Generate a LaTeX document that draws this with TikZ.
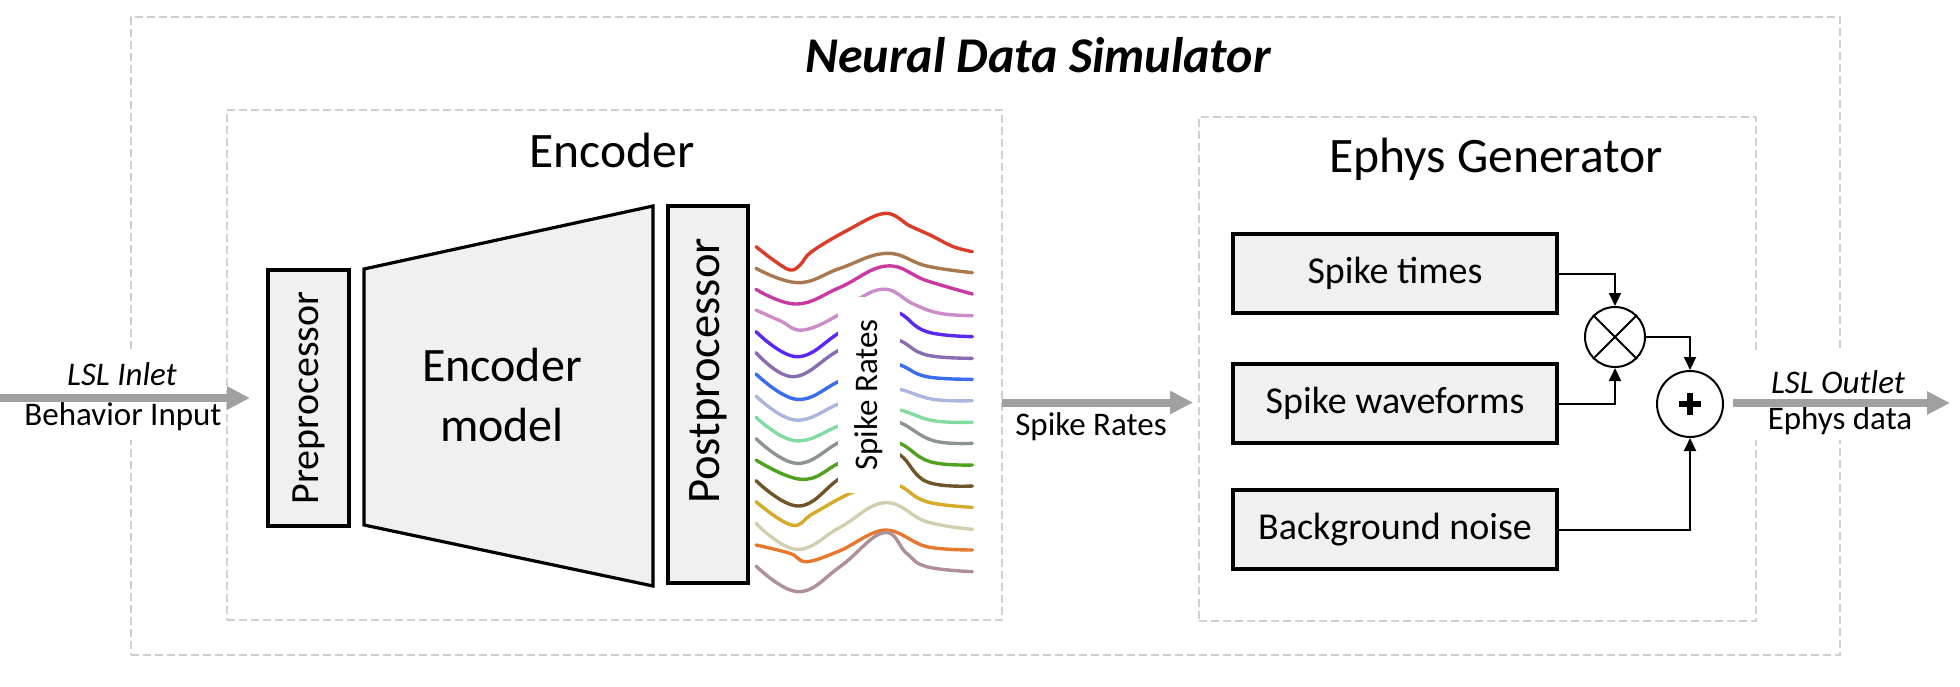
\documentclass[tikz,border=0pt]{standalone}
\usepackage{fontspec}
\setmainfont{Carlito}
\usetikzlibrary{arrows.meta,fit,shapes.geometric}
\definecolor{dashgray}{HTML}{D0D0D0}
\definecolor{arrowgray}{HTML}{A0A0A0}
\definecolor{boxfill}{HTML}{F0F0F0}
\definecolor{c1}{HTML}{DC3B28}
\definecolor{c2}{HTML}{A87850}
\definecolor{c3}{HTML}{C83AA0}
\definecolor{c4}{HTML}{CC8CC8}
\definecolor{c5}{HTML}{5A28F0}
\definecolor{c6}{HTML}{8A6CB0}
\definecolor{c7}{HTML}{3A6CF0}
\definecolor{c8}{HTML}{AAB6DC}
\definecolor{c9}{HTML}{82DCA0}
\definecolor{c10}{HTML}{8C9490}
\definecolor{c11}{HTML}{52A020}
\definecolor{c12}{HTML}{6E5428}
\definecolor{c13}{HTML}{D4AA28}
\definecolor{c14}{HTML}{D2CEAE}
\definecolor{c15}{HTML}{E87830}
\definecolor{c16}{HTML}{B09098}
\tikzset{
  grpbox/.style={draw=dashgray, line width=1.4pt, dash pattern=on 4pt off 2pt, inner sep=0pt},
  blk/.style={draw=black, line width=1.6pt, fill=boxfill, inner sep=0pt},
  genbox/.style={blk, minimum width=162pt, minimum height=39.5pt, font=\fontsize{19}{23}\selectfont},
  conn/.style={line width=1pt, -{Triangle[length=6.5pt,width=6pt]}},
  bigarrow/.style={draw=arrowgray, line width=4pt, -{Triangle[length=11.5pt,width=11pt]}},
  lbl/.style={font=\fontsize{16.5}{19}\selectfont, inner sep=0pt},
  heading/.style={font=\fontsize{24.8}{29}\selectfont, inner sep=0pt, anchor=base},
  wave/.style={line width=1.7pt, line cap=round, line join=round},
}
\begin{document}
\begin{tikzpicture}[x=0.5pt, y=-0.5pt]
\useasboundingbox (0,0) rectangle (1960,686);

% group frames
\node[grpbox, fit={(131,17) (1840,655)}] (sim) {};
\node[grpbox, fit={(227,110) (1002,620)}] (enc) {};
\node[grpbox, fit={(1199,117) (1756,621)}] (eph) {};

% titles
\node[font=\fontsize{25}{30}\selectfont\bfseries\itshape, inner sep=0pt, anchor=base] (title) at (1038,72) {Neural Data Simulator};
\node[heading] (enchead) at (612,167) {Encoder};
\node[heading] (ephhead) at (1496,172) {Ephys Generator};

% encoder parts
\node[blk, minimum width=40.5pt, minimum height=128pt] (pre) at (308.5,398) {};
\node[rotate=90, font=\fontsize{20}{24}\selectfont, inner sep=0pt] (pretxt) at (pre.center) {Preprocessor};
\draw[blk] (364,269) -- (653,206) -- (653,586) -- (364,525) -- cycle;
\node[align=center, font=\fontsize{24}{30}\selectfont, inner sep=0pt] (model) at (502,395) {Encoder\\model};
\node[blk, minimum width=40pt, minimum height=188.5pt] (post) at (708,394.5) {};
\node[rotate=90, font=\fontsize{23.3}{27}\selectfont, inner sep=0pt] (posttxt) at (708,371) {Postprocessor};

% spike rate traces
\begin{scope}[shift={(740,200)}, x=0.16667pt, y=-0.16667pt]
\draw[wave, c1] plot[smooth, tension=0.6] coordinates {(48,140) (100,180) (150,210) (180,195) (215,155) (320,92) (435,40) (510,78) (570,105) (640,140) (697,155)};
\draw[wave, c2] plot[smooth, tension=0.7] coordinates {(48,205) (175,248) (300,205) (440,160) (560,198) (697,218)};
\draw[wave, c3] plot[smooth, tension=0.7] coordinates {(48,268) (170,312) (300,262) (440,198) (560,242) (697,282)};
\draw[wave, c4] plot[smooth, tension=0.7] coordinates {(48,330) (120,362) (190,390) (300,342) (360,294) (440,268) (520,312) (600,340) (697,347)};
\draw[wave, c5] plot[smooth, tension=0.7] coordinates {(48,395) (170,470) (295,400) (410,320) (480,340) (560,395) (697,410)};
\draw[wave, c6] plot[smooth, tension=0.7] coordinates {(48,458) (160,530) (295,452) (410,405) (480,422) (560,465) (697,475)};
\draw[wave, c7] plot[smooth, tension=0.7] coordinates {(48,522) (170,598) (295,545) (410,485) (480,495) (560,530) (697,538)};
\draw[wave, c8] plot[smooth, tension=0.7] coordinates {(48,588) (165,660) (295,612) (410,560) (480,568) (580,598) (697,602)};
\draw[wave, c9] plot[smooth, tension=0.7] coordinates {(48,652) (165,722) (295,678) (410,625) (480,630) (580,662) (697,667)};
\draw[wave, c10] plot[smooth, tension=0.7] coordinates {(48,716) (170,790) (295,728) (410,660) (480,668) (580,722) (697,730)};
\draw[wave, c11] plot[smooth, tension=0.7] coordinates {(48,780) (185,838) (295,790) (410,720) (480,730) (570,785) (697,795)};
\draw[wave, c12] plot[smooth, tension=0.7] coordinates {(48,842) (175,918) (295,838) (410,752) (480,765) (560,845) (697,858)};
\draw[wave, c13] plot[smooth, tension=0.7] coordinates {(48,905) (155,975) (220,940) (330,880) (420,850) (480,858) (560,905) (697,922)};
\draw[wave, c14] plot[smooth, tension=0.7] coordinates {(48,970) (170,1048) (300,982) (435,908) (560,965) (697,988)};
\draw[wave, c15] plot[smooth, tension=0.6] coordinates {(48,1035) (150,1060) (200,1085) (300,1052) (435,990) (560,1040) (697,1050)};
\draw[wave, c16] plot[smooth, tension=0.7] coordinates {(48,1098) (175,1175) (300,1100) (430,998) (500,1060) (560,1100) (697,1115)};
\end{scope}
\node[fill=white, rotate=90, minimum width=98.3pt, minimum height=31pt, inner sep=0pt, font=\fontsize{16.5}{19}\selectfont] (srv) at (869,395) {Spike Rates};

% ephys generator parts
\node[genbox] (st) at (1395,273.5) {Spike times};
\node[genbox] (sw) at (1395,403.5) {Spike waveforms};
\node[genbox] (bn) at (1395,529.5) {Background noise};
\node[circle, draw, line width=1pt, minimum size=30pt, inner sep=0pt] (mul) at (1615,337) {};
\draw[line width=1pt] (mul.north west) -- (mul.south east) (mul.north east) -- (mul.south west);
\node[circle, draw, line width=1pt, minimum size=33pt, inner sep=0pt] (add) at (1690,404) {};
\draw[line width=2.6pt] ([xshift=-5.5pt]add.center) -- ([xshift=5.5pt]add.center)
                        ([yshift=-5.5pt]add.center) -- ([yshift=5.5pt]add.center);
\draw[conn] (st.east) -| (mul.north);
\draw[conn] (sw.east) -| (mul.south);
\draw[conn] (mul.east) -| (add.north);
\draw[conn] (bn.east) -| (add.south);

% inlet / outlet labels
\fill[white] (20,352) rectangle (224,440);
\fill[white] (1742,352) rectangle (1915,440);
\node[lbl, anchor=base, font=\fontsize{16.5}{19}\selectfont\itshape] (inlet) at (122,385) {LSL Inlet};
\node[lbl, anchor=base] (behav) at (123,425) {Behavior Input};
\node[lbl, anchor=base, font=\fontsize{16.5}{19}\selectfont\itshape] (outlet) at (1838,393) {LSL Outlet};
\node[lbl, anchor=base] (ephd) at (1840,429) {Ephys data};
\node[lbl, anchor=base] (srlbl) at (1091,435) {Spike Rates};

% big gray arrows
\coordinate (inA) at (0,398);
\coordinate (inB) at (250,398);
\coordinate (midA) at (1002,402.5);
\coordinate (midB) at (1193,402.5);
\coordinate (outA) at (1733,403);
\coordinate (outB) at (1950,403);
\draw[bigarrow] (inA) -- (inB);
\draw[bigarrow] (midA) -- (midB);
\draw[bigarrow] (outA) -- (outB);
\end{tikzpicture}
\end{document}
